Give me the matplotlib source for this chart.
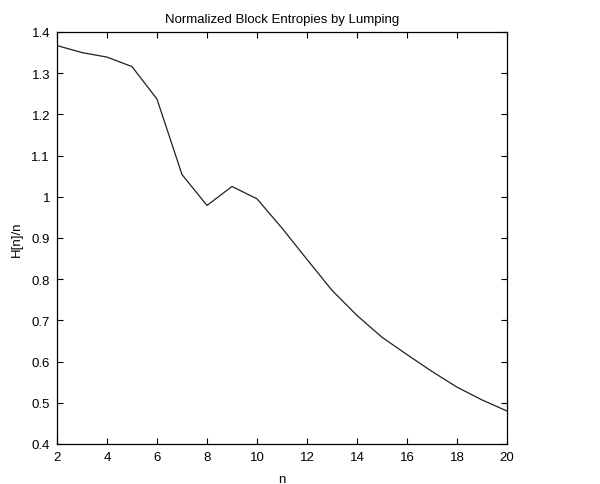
import matplotlib
matplotlib.use('Agg')
import matplotlib.pyplot as plt
from matplotlib.ticker import FuncFormatter

plt.rcParams['font.family'] = ['Liberation Sans', 'DejaVu Sans']

n = list(range(2, 21))
h_norm = [1.367, 1.350, 1.339, 1.316, 1.237, 1.054, 0.979, 1.025, 0.995,
          0.924, 0.848, 0.773, 0.712, 0.659, 0.617, 0.576, 0.538, 0.507, 0.480]

fig = plt.figure(figsize=(6, 4.85), dpi=100)
ax = fig.add_axes([0.095, 0.0825, 0.75, 0.8495])

ax.plot(n, h_norm, color='#202020', linewidth=0.9)

ax.set_xlim(2, 20)
ax.set_ylim(0.4, 1.4)
ax.set_xticks(range(2, 21, 2))
ax.set_yticks([0.4 + 0.1 * i for i in range(11)])
ax.yaxis.set_major_formatter(FuncFormatter(lambda v, p: '%g' % round(v, 1)))

ax.tick_params(direction='in', top=True, right=True, length=4, width=0.8,
               labelsize=9.5, pad=5)
for s in ax.spines.values():
    s.set_linewidth(0.9)

ax.set_title('Normalized Block Entropies by Lumping', fontsize=9.5, pad=7)
ax.set_xlabel('n', fontsize=9.5, labelpad=7)
ax.set_ylabel('H[n]/n', fontsize=9.5, labelpad=6)

fig.savefig('out.png', dpi=100)
